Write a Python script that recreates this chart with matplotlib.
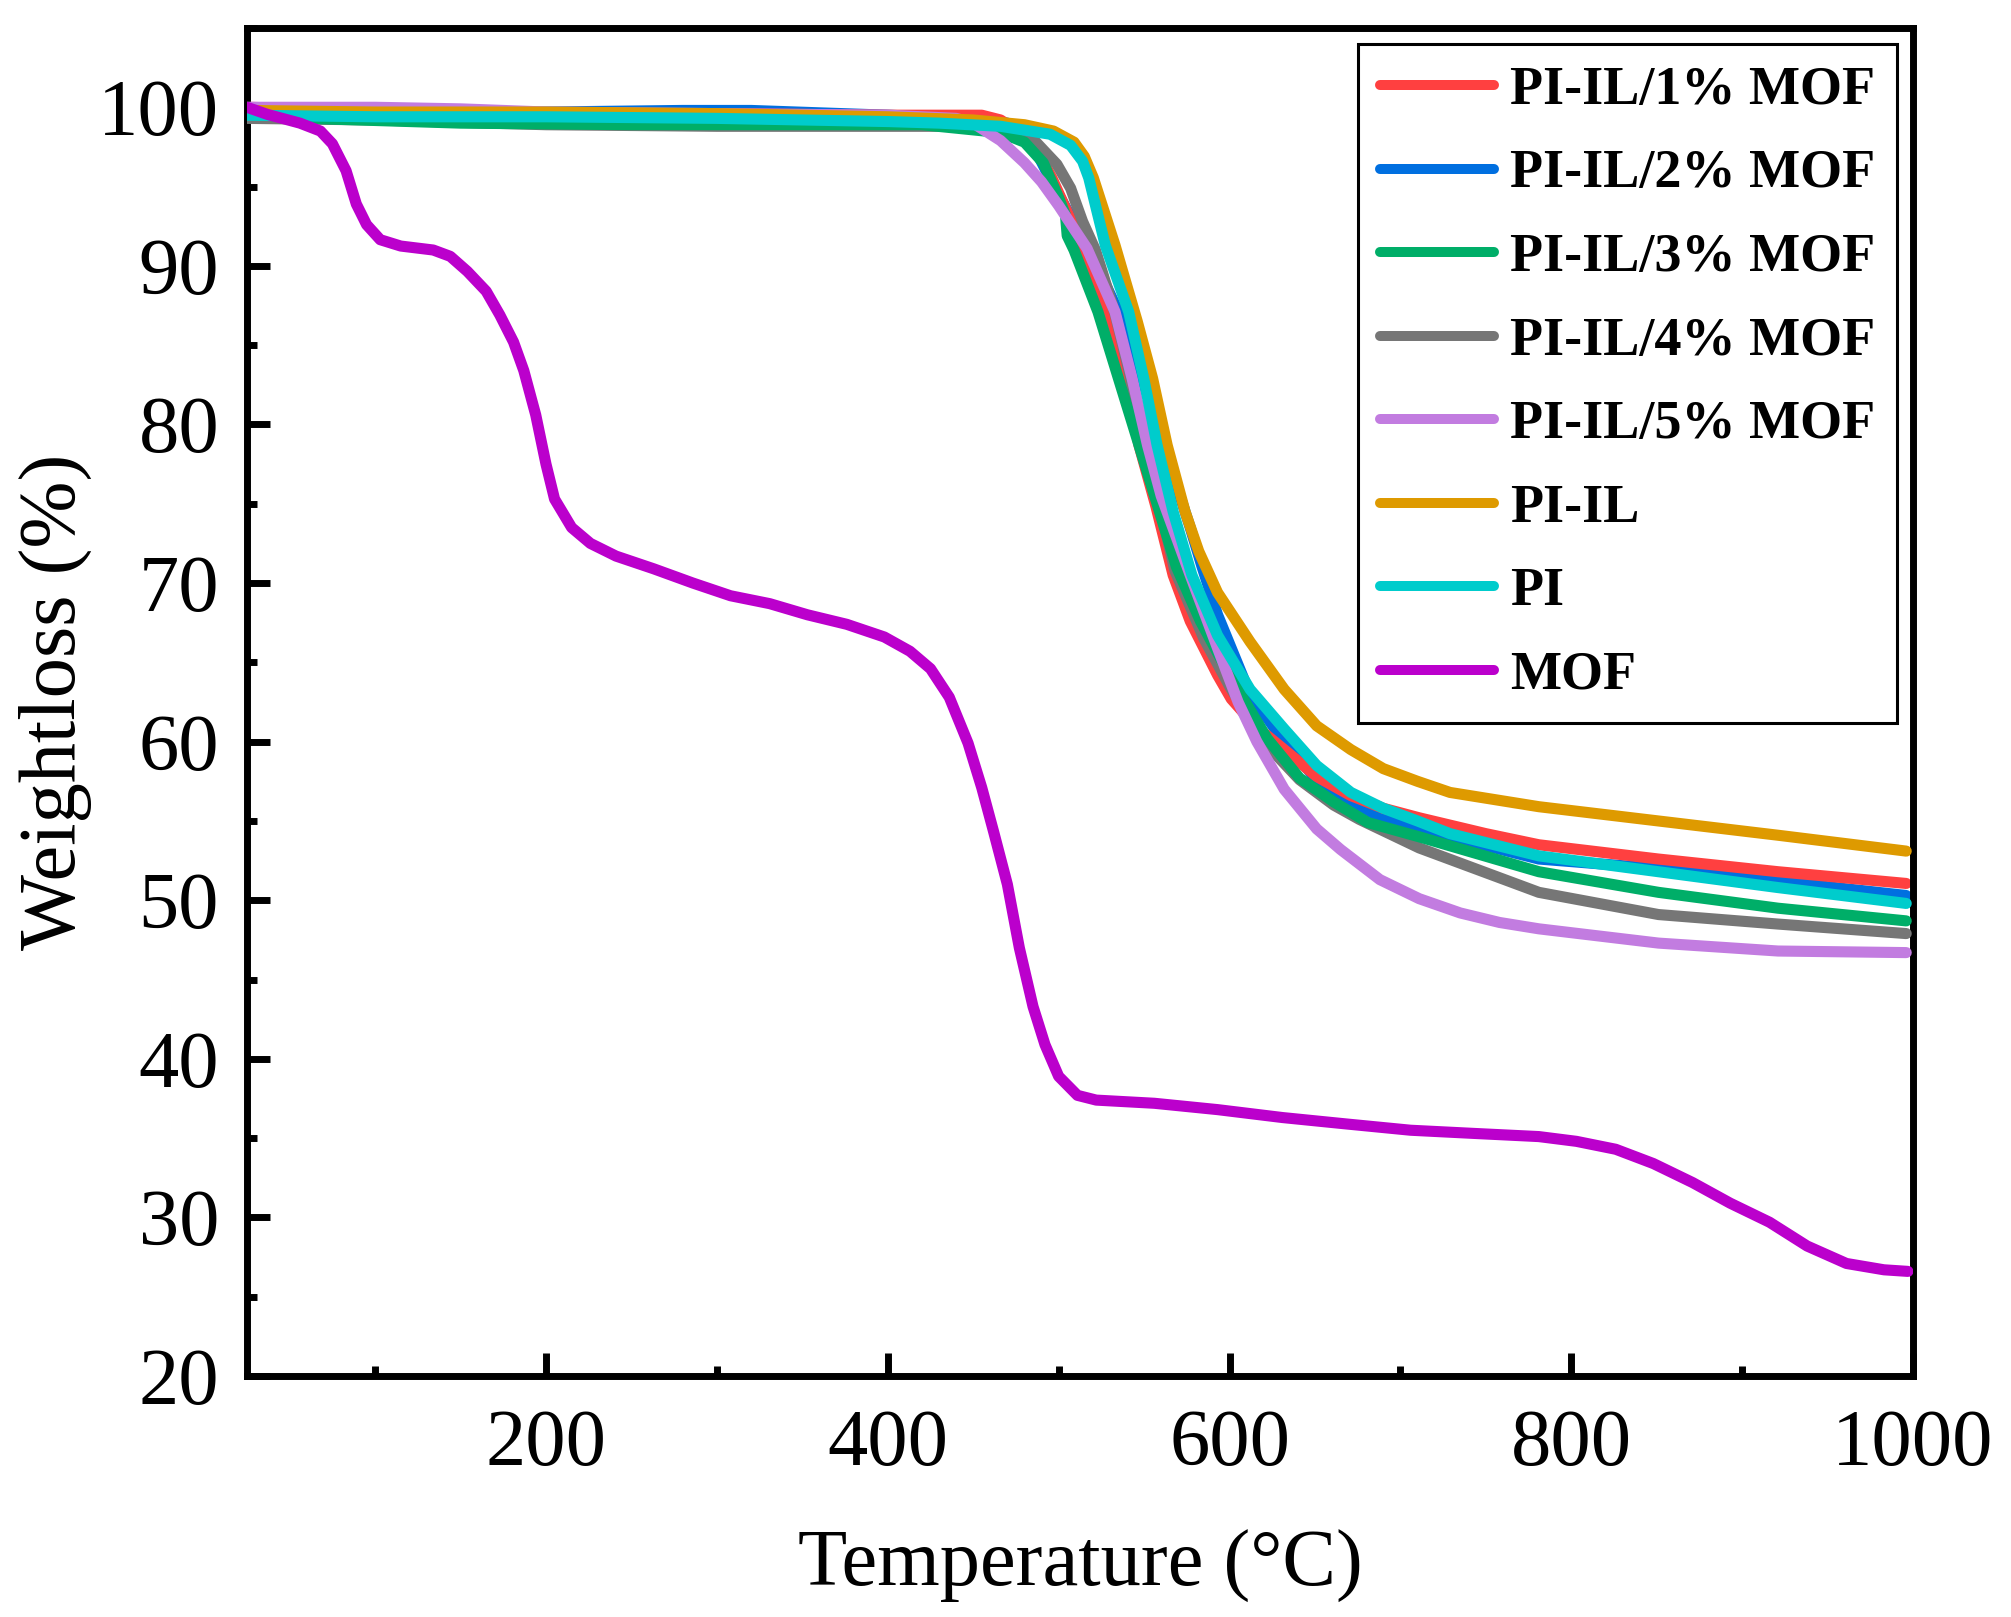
import numpy as np
import matplotlib
matplotlib.use('Agg')
import matplotlib.pyplot as plt
from matplotlib.ticker import MultipleLocator

plt.rcParams['font.family'] = ['Liberation Serif', 'DejaVu Serif']

# TGA data: temperature (C) and remaining weight (%)
t_1 = [25, 100, 200, 300, 400, 455, 466, 476, 489, 496, 505, 514, 529, 539, 547, 557, 567, 577, 593, 601, 615, 632, 651, 671, 690, 711, 750, 781, 851, 921, 996]
w_1 = [100.0, 99.8, 99.6, 99.6, 99.5, 99.5, 99.2, 98.5, 97.0, 95.55, 93.4, 91.3, 87.1, 82.9, 78.7, 74.8, 70.5, 67.6, 64.2, 62.7, 61.0, 59.5, 57.8, 56.6, 55.8, 55.2, 54.2, 53.5, 52.6, 51.8, 51.06]

t_2 = [25, 100, 200, 280, 320, 400, 450, 470, 485, 495, 505, 518, 535, 550, 565, 577, 584, 593, 612, 632, 651, 671, 690, 711, 781, 851, 921, 996]
w_2 = [99.6, 99.6, 99.7, 99.8, 99.8, 99.5, 99.3, 99.0, 97.6, 95.5, 93.5, 91.0, 87.1, 82.5, 77.5, 73.5, 71.0, 68.0, 63.0, 60.0, 57.6, 56.3, 55.1, 54.5, 52.6, 52.0, 51.2, 50.3]

t_3 = [25, 60, 150, 250, 350, 420, 466, 480, 491, 500, 504, 505, 509, 523, 535, 547, 559, 569, 583, 602, 622, 641, 661, 681, 711, 781, 851, 921, 996]
w_3 = [99.6, 99.3, 99.0, 98.9, 98.9, 98.9, 98.4, 97.8, 96.5, 94.3, 93.2, 91.9, 91.0, 87.1, 82.9, 78.7, 74.5, 71.0, 67.6, 63.8, 60.2, 57.7, 56.2, 54.9, 54.0, 51.8, 50.5, 49.5, 48.7]

t_4 = [25, 100, 200, 300, 400, 440, 466, 485, 499, 507, 514, 521.5, 525, 533, 542, 550, 560, 568, 585, 600, 620, 641, 661, 676, 711, 781, 851, 921, 996]
w_4 = [99.3, 99.2, 98.9, 98.8, 98.8, 98.8, 98.6, 98.0, 96.4, 94.9, 92.8, 91.0, 89.8, 87.0, 83.0, 78.7, 74.5, 70.8, 66.5, 63.5, 60.0, 57.6, 56.0, 55.1, 53.3, 50.5, 49.1, 48.5, 47.9]

t_5 = [25, 100, 150, 200, 300, 400, 440, 450, 466, 480, 490, 500, 516.6, 533, 543, 552, 560, 577, 593, 605, 616, 632, 651, 665, 688, 711, 735, 758, 781, 851, 921, 996]
w_5 = [100.0, 100.0, 99.9, 99.7, 99.6, 99.5, 99.3, 99.0, 97.9, 96.5, 95.3, 93.8, 91.1, 87.1, 82.9, 78.7, 75.5, 70.5, 65.9, 62.5, 60.0, 57.0, 54.5, 53.2, 51.3, 50.1, 49.2, 48.6, 48.2, 47.3, 46.8, 46.7]

t_il = [25, 100, 200, 300, 400, 450, 480, 497, 509, 515, 520.3, 533, 546, 555, 563.5, 574, 582, 593, 612, 632, 651, 671, 690, 710, 729, 781, 851, 921, 996]
w_il = [99.8, 99.7, 99.7, 99.6, 99.4, 99.2, 98.9, 98.5, 97.8, 96.9, 95.55, 91.3, 86.5, 82.9, 78.7, 74.5, 72.0, 69.4, 66.3, 63.3, 61.0, 59.5, 58.3, 57.5, 56.8, 55.9, 55.0, 54.1, 53.1]

t_pi = [25, 100, 200, 300, 400, 430, 466, 495, 507, 514, 517.6, 527.3, 541, 549.8, 557.6, 567, 578, 593, 612, 632, 651, 671, 690, 710, 729, 781, 851, 921, 996]
w_pi = [99.5, 99.4, 99.4, 99.3, 99.1, 99.0, 98.8, 98.3, 97.6, 96.6, 95.55, 91.3, 87.1, 82.9, 78.7, 74.5, 70.5, 66.7, 63.3, 60.8, 58.5, 56.8, 55.8, 55.0, 54.2, 52.8, 51.8, 50.8, 49.8]

t_mof = [25, 37, 56, 68, 75, 83, 89, 95, 103, 115, 134, 144, 154, 165, 173, 181, 187, 194, 200, 205, 215, 226, 241, 263, 286, 308, 331, 353, 376, 398, 413, 425, 436, 447, 455, 462, 470, 477, 485, 492, 500, 511, 522, 556, 593, 631, 668, 706, 743, 781, 803, 826, 848, 871, 893, 916, 938, 961, 983, 997]
w_mof = [100.0, 99.55, 99.0, 98.5, 97.7, 96.0, 93.9, 92.6, 91.65, 91.25, 91.0, 90.6, 89.65, 88.4, 86.9, 85.2, 83.4, 80.6, 77.5, 75.3, 73.5, 72.5, 71.7, 70.9, 70.0, 69.2, 68.7, 68.0, 67.4, 66.6, 65.7, 64.6, 62.8, 59.9, 57.1, 54.3, 51.0, 47.0, 43.3, 40.9, 38.9, 37.7, 37.4, 37.2, 36.8, 36.3, 35.9, 35.5, 35.3, 35.1, 34.8, 34.3, 33.4, 32.2, 30.9, 29.7, 28.2, 27.1, 26.7, 26.6]

labels = ['PI-IL/1% MOF', 'PI-IL/2% MOF', 'PI-IL/3% MOF', 'PI-IL/4% MOF',
          'PI-IL/5% MOF', 'PI-IL', 'PI', 'MOF']
colors = ['#FF4040', '#006FE0', '#00AE68', '#767676',
          '#C27CE0', '#DE9A00', '#00CCCC', '#BB00CC']
zorders = [2, 1, 4, 3, 5, 6, 7, 8]
series = [(t_1, w_1), (t_2, w_2), (t_3, w_3), (t_4, w_4),
          (t_5, w_5), (t_il, w_il), (t_pi, w_pi), (t_mof, w_mof)]

fig = plt.figure(figsize=(10.055, 8.085), dpi=200)
ax = fig.add_axes([0.1228, 0.1490, 0.8285, 0.8337])

for (t, w), lab, c, z in zip(series, labels, colors, zorders):
    ax.plot(t, w, color=c, lw=4.0, label=lab, zorder=z,
            solid_capstyle='round', solid_joinstyle='round')

ax.set_xlim(25, 1000)
ax.set_ylim(20, 105)
ax.xaxis.set_major_locator(MultipleLocator(200))
ax.xaxis.set_minor_locator(MultipleLocator(100))
ax.yaxis.set_major_locator(MultipleLocator(10))
ax.yaxis.set_minor_locator(MultipleLocator(5))
ax.tick_params(which='both', direction='in', width=2.5, top=False, right=False)
ax.tick_params(which='major', length=8.3, labelsize=29)
ax.tick_params(axis='x', which='major', pad=12)
ax.tick_params(axis='y', which='major', pad=10)
ax.tick_params(which='minor', length=3.6)
for s in ax.spines.values():
    s.set_linewidth(2.5)

ax.set_xlabel('Temperature (°C)', fontsize=29, labelpad=17)
ax.set_ylabel('Weightloss (%)', fontsize=29, labelpad=2)

leg = ax.legend(loc='upper right', prop={'weight': 'bold', 'size': 19.5},
                frameon=True, fancybox=False, framealpha=1, edgecolor='black',
                handlelength=2.1, handletextpad=0.3, labelspacing=0.62,
                borderpad=0.4, borderaxespad=0.3)
leg.get_frame().set_linewidth(1.1)
for h in leg.get_lines():
    h.set_linewidth(3.6)
    h.set_solid_capstyle('round')

fig.savefig('out.png', dpi=200)
